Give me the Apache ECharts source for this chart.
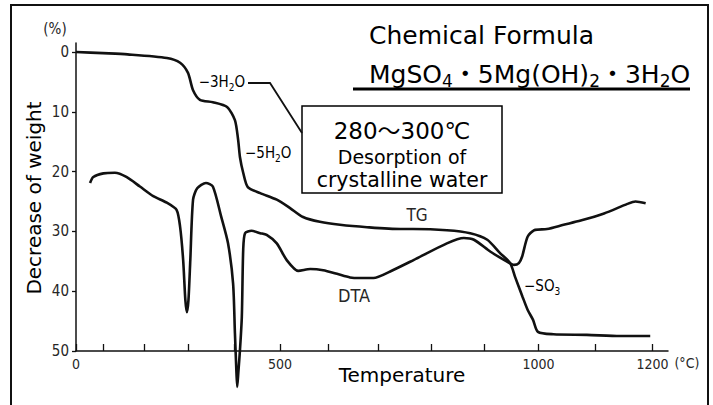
<!DOCTYPE html>
<html>
<head>
<meta charset="utf-8">
<script src="https://cdn.jsdelivr.net/npm/echarts@6/dist/echarts.min.js"></script>
<style>
  html, body { margin: 0; padding: 0; background: #fff; }
  #chart { width: 713px; height: 405px; }
</style>
</head>
<body>
<div id="chart"></div>
<script>
// Thermal analysis of MgSO4·5Mg(OH)2·3H2O: TG (weight loss, %) and DTA trace.

// Temperature scale of the recorder chart: every 100 °C division and its
// distance along the (non-uniform) scale, in axis units.
const SCALE_TEMPS = [0, 100, 200, 300, 400, 500, 600, 700, 800, 900, 1000, 1100, 1200];
const SCALE_POS   = [0, 27, 68, 112, 158, 204, 252, 302, 355, 408, 462.5, 519.5, 576.5];
const SCALE_END = 592;
const X_LABEL_TEMPS = [0, 500, 1000, 1200];
const Y_TICKS = [0, 10, 20, 30, 40, 50];

// TG curve: temperature (°C) and decrease of weight (%)
const TG_TEMPS = [0, 100, 160, 252, 282, 300, 311, 326, 354, 385, 402, 409, 413, 420, 430, 457, 493,
  521, 548, 583, 624, 678, 742, 766, 830, 874, 906, 929, 948, 957, 971, 980, 990, 999, 1026, 1085,
  1143, 1196];
const TG_LOSS = [0, 0.2, 0.4, 1.0, 1.8, 3.5, 6.4, 8.0, 8.4, 9.2, 11.4, 14.7, 17.6, 20.2, 22.6, 23.6,
  24.7, 26.1, 27.6, 28.4, 28.9, 29.3, 29.6, 29.6, 29.8, 30.3, 31.4, 33.6, 35.3, 37.6, 41.0, 43.1,
  44.8, 46.8, 47.2, 47.3, 47.5, 47.5];

// DTA trace: temperature (°C) and signal, drawn on the same vertical scale
const DTA_TEMPS = [52, 64, 101, 129, 157, 190, 221, 252, 274, 282, 289, 294, 297.5, 301, 305, 311,
  320, 339, 354, 372, 387, 398, 402, 405, 407, 409.5, 413, 417, 420, 424, 438, 457, 471, 493, 514,
  538, 563, 590, 618, 644, 664, 691, 723, 767, 830, 862, 881, 912, 943, 955, 964, 970, 980, 992,
  1015, 1044, 1074, 1115, 1156, 1170, 1188];
const DTA_SIGNAL = [21.9, 20.9, 20.3, 20.2, 20.9, 22.5, 24.1, 25.2, 26.4, 29.2, 34.8, 41.5, 43.5,
  41.5, 34.8, 24.7, 22.8, 21.9, 22.5, 27.5, 32.0, 38.7, 47.0, 53.0, 56.0, 53.5, 49.8, 44.3, 33.1,
  30.3, 29.9, 30.3, 30.6, 32.0, 34.8, 36.6, 36.3, 36.5, 37.1, 37.7, 37.8, 37.8, 36.7, 34.8, 32.0,
  31.1, 31.4, 33.4, 35.1, 35.6, 35.3, 34.2, 30.9, 29.8, 29.6, 28.9, 28.2, 27.0, 25.4, 25.0, 25.3];

// map a temperature onto the recorder scale (piecewise linear between divisions)
function toScale(t) {
  for (let i = 0; i < SCALE_TEMPS.length - 1; i++) {
    const t0 = SCALE_TEMPS[i], t1 = SCALE_TEMPS[i + 1];
    if (t <= t1 || i === SCALE_TEMPS.length - 2) {
      return SCALE_POS[i] + (t - t0) / (t1 - t0) * (SCALE_POS[i + 1] - SCALE_POS[i]);
    }
  }
}
function fromScale(p) {
  for (let i = 0; i < SCALE_POS.length; i++) {
    if (Math.abs(SCALE_POS[i] - p) < 0.01) return SCALE_TEMPS[i];
  }
  return '';
}

const tgData = TG_TEMPS.map((t, i) => [toScale(t), TG_LOSS[i]]);
const dtaData = DTA_TEMPS.map((t, i) => [toScale(t), DTA_SIGNAL[i]]);

const SCAN_FONT = "'DejaVu Sans Condensed', 'Liberation Sans Narrow', sans-serif";
const TEXT_FONT = "'DejaVu Sans', 'Noto Sans CJK JP', sans-serif";
const INK = '#111';
const LABEL_INK = '#262626';

const chart = echarts.init(document.getElementById('chart'), null, { renderer: 'svg' });

const curveRich = {
  a: { fontFamily: SCAN_FONT, fontSize: 15, color: LABEL_INK, lineHeight: 20 },
  s: { fontFamily: SCAN_FONT, fontSize: 10, color: LABEL_INK, lineHeight: 12, verticalAlign: 'bottom' }
};
const formulaRich = {
  a: { fontFamily: TEXT_FONT, fontSize: 25, color: '#000', lineHeight: 31 },
  s: { fontFamily: TEXT_FONT, fontSize: 17, color: '#000', lineHeight: 17, verticalAlign: 'bottom' }
};

chart.setOption({
  animation: false,
  backgroundColor: '#fff',
  grid: {
    left: 76, right: 713 - 76 - SCALE_END, top: 43, bottom: 54,
    containLabel: false, outerBoundsMode: 'none'
  },
  xAxis: {
    type: 'value',
    position: 'bottom',
    min: 0, max: SCALE_END,
    axisLine: { show: true, onZero: false, lineStyle: { color: INK, width: 1.5 } },
    axisTick: { show: true, inside: true, length: 7, lineStyle: { color: INK, width: 1.3 },
      customValues: SCALE_POS },
    axisLabel: {
      customValues: X_LABEL_TEMPS.map(toScale),
      formatter: v => String(fromScale(v)),
      fontFamily: SCAN_FONT, fontSize: 14, color: LABEL_INK, margin: 6
    },
    splitLine: { show: false },
    name: '(°C)',
    nameLocation: 'end',
    nameGap: 4,
    nameTextStyle: { fontFamily: SCAN_FONT, fontSize: 14, color: LABEL_INK,
      verticalAlign: 'top', padding: [5, 0, 0, 0] }
  },
  yAxis: {
    type: 'value',
    inverse: true,
    min: -1.5, max: 50,
    axisLine: { show: true, onZero: false, lineStyle: { color: INK, width: 1.5 } },
    axisTick: { show: true, length: 4, lineStyle: { color: INK, width: 1.3 }, customValues: Y_TICKS },
    axisLabel: { customValues: Y_TICKS, fontFamily: SCAN_FONT, fontSize: 15, color: LABEL_INK, margin: 7 },
    splitLine: { show: false }
  },
  series: [
    {
      name: 'TG', type: 'line', data: tgData, showSymbol: false, smooth: 0.25, clip: false,
      lineStyle: { color: INK, width: 2.6 }
    },
    {
      name: 'DTA', type: 'line', data: dtaData, showSymbol: false, smooth: 0.25, clip: false,
      lineStyle: { color: INK, width: 2.6 }
    }
  ],
  graphic: [
    { type: 'rect', shape: { x: 11, y: 5, width: 697, height: 430 },
      style: { fill: 'none', stroke: INK, lineWidth: 2 }, silent: true },
    { type: 'text', x: 55, y: 29,
      style: { text: '(%)', fontFamily: SCAN_FONT, fontSize: 15, fill: LABEL_INK, align: 'center', verticalAlign: 'middle' } },
    { type: 'text', x: 369, y: 35,
      style: { text: 'Chemical Formula', fontFamily: TEXT_FONT, fontSize: 25, fill: '#000', align: 'left', verticalAlign: 'middle' } },
    { type: 'text', x: 369, y: 74,
      style: { text: '{a|MgSO}{s|4}{a|・5Mg(OH)}{s|2}{a|・3H}{s|2}{a|O}', rich: formulaRich, align: 'left', verticalAlign: 'middle' } },
    { type: 'line', shape: { x1: 353, y1: 89, x2: 690, y2: 89 }, style: { stroke: '#000', lineWidth: 3 } },
    { type: 'rect', shape: { x: 302, y: 106, width: 200, height: 87 },
      style: { fill: '#fff', stroke: '#000', lineWidth: 1.5 } },
    { type: 'text', x: 402, y: 131,
      style: { text: '280～300℃', fontFamily: TEXT_FONT, fontSize: 23, fill: '#000', align: 'center', verticalAlign: 'middle' } },
    { type: 'text', x: 402, y: 157,
      style: { text: 'Desorption of', fontFamily: TEXT_FONT, fontSize: 19, fill: '#000', align: 'center', verticalAlign: 'middle' } },
    { type: 'text', x: 402, y: 180,
      style: { text: 'crystalline water', fontFamily: TEXT_FONT, fontSize: 20.5, fill: '#000', align: 'center', verticalAlign: 'middle' } },
    { type: 'polyline', shape: { points: [[248, 83], [270, 83], [302, 133]] },
      style: { stroke: INK, lineWidth: 1.8, fill: 'none' } },
    { type: 'text', x: 245, y: 82,
      style: { text: '{a|−3H}{s|2}{a|O}', rich: curveRich, align: 'right', verticalAlign: 'middle' } },
    { type: 'text', x: 245, y: 153,
      style: { text: '{a|−5H}{s|2}{a|O}', rich: curveRich, align: 'left', verticalAlign: 'middle' } },
    { type: 'text', x: 417, y: 215,
      style: { text: 'TG', fontFamily: SCAN_FONT, fontSize: 17, fill: LABEL_INK, align: 'center', verticalAlign: 'middle' } },
    { type: 'text', x: 354, y: 295,
      style: { text: 'DTA', fontFamily: SCAN_FONT, fontSize: 18, fill: LABEL_INK, align: 'center', verticalAlign: 'middle' } },
    { type: 'text', x: 524, y: 286,
      style: { text: '{a|−SO}{s|3}', rich: curveRich, align: 'left', verticalAlign: 'middle' } },
    { type: 'text', x: 34, y: 198, rotation: Math.PI / 2,
      style: { text: 'Decrease of weight', fontFamily: TEXT_FONT, fontSize: 20, fill: '#000', align: 'center', verticalAlign: 'middle' } },
    { type: 'text', x: 402, y: 375,
      style: { text: 'Temperature', fontFamily: TEXT_FONT, fontSize: 20, fill: '#000', align: 'center', verticalAlign: 'middle' } }
  ]
});
</script>
</body>
</html>
